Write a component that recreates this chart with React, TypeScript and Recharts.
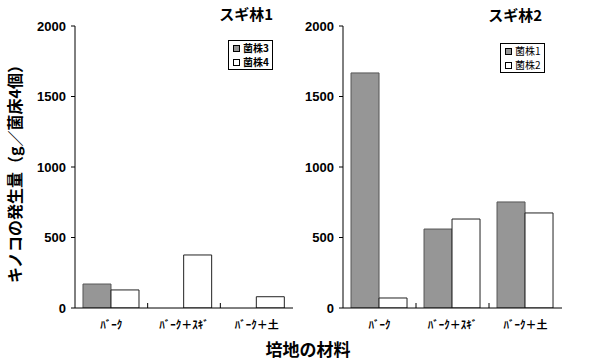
import React from "react";
import { BarChart, Bar, XAxis, YAxis, Legend } from "recharts";

const categories = ["ﾊﾞｰｸ", "ﾊﾞｰｸ＋ｽｷﾞ", "ﾊﾞｰｸ＋土"];
const forest1Strain3 = [170, 0, 0];
const forest1Strain4 = [128, 376, 80];
const forest2Strain1 = [1667, 560, 752];
const forest2Strain2 = [71, 631, 674];
const yTicks = [0, 500, 1000, 1500, 2000];

const FONT = "'Liberation Sans', 'Noto Sans CJK JP', sans-serif";
const JP = "'Noto Sans CJK JP', 'Liberation Sans', sans-serif";
const X_TICK_MARGIN = 13;

const data1 = categories.map((c, i) => ({ cat: c, a: forest1Strain3[i], b: forest1Strain4[i] }));
const data2 = categories.map((c, i) => ({ cat: c, a: forest2Strain1[i], b: forest2Strain2[i] }));

const CatTick = (props: any) => {
  const { x, y, payload, index } = props;
  const half = payload && payload.offset ? payload.offset : 0;
  const axisY = y - X_TICK_MARGIN;
  return (
    <g>
      {index > 0 && (
        <line x1={x - half} x2={x - half} y1={axisY} y2={axisY - 5} stroke="#000" strokeWidth={1} />
      )}
      <text x={x} y={y} dy="0.71em" textAnchor="middle" fontFamily={JP} fontWeight="bold" fontSize={11} fill="#000">
        {payload.value}
      </text>
    </g>
  );
};

const makeLegend = (bold: boolean) => (props: any) => {
  const payload = props.payload || [];
  return (
    <div
      style={{
        border: "1px solid #000",
        background: "#fff",
        padding: "0px 3px 0px 4px",
        fontFamily: JP,
        fontSize: 10,
        fontWeight: bold ? "bold" : "normal",
        lineHeight: "14px",
        color: "#000",
      }}
    >
      {payload.map((p: any) => (
        <div key={p.value} style={{ display: "flex", alignItems: "center", whiteSpace: "nowrap", height: 14 }}>
          <span
            style={{
              display: "inline-block",
              width: 5,
              height: 5,
              border: "1px solid #000",
              background: p.color,
              marginRight: 3,
            }}
          />
          {p.value}
        </div>
      ))}
    </div>
  );
};

type PanelProps = {
  data: any[];
  nameA: string;
  nameB: string;
  margin: { top: number; right: number; bottom: number; left: number };
  yWidth: number;
  legendPos: { left: number; top: number };
  boldLegend: boolean;
};

const Panel = ({ data, nameA, nameB, margin, yWidth, legendPos, boldLegend }: PanelProps) => (
  <BarChart width={300} height={361} data={data} margin={margin} barCategoryGap="11%" barGap={0}>
    <XAxis
      dataKey="cat"
      tickLine={false}
      tickSize={0}
      tickMargin={X_TICK_MARGIN}
      height={30}
      axisLine={{ stroke: "#000" }}
      tick={<CatTick />}
      interval={0}
    />
    <XAxis xAxisId="top" dataKey="cat" orientation="top" height={0} tick={false} tickLine={false} axisLine={{ stroke: "#000" }} />
    <YAxis
      domain={[0, 2000]}
      ticks={yTicks}
      width={yWidth}
      tickSize={4}
      tickMargin={5}
      tickLine={{ stroke: "#000" }}
      axisLine={{ stroke: "#000" }}
      tick={{ fill: "#000", fontFamily: FONT, fontWeight: "bold", fontSize: 13 }}
      allowDataOverflow
    />
    <YAxis yAxisId="r" orientation="right" width={0} domain={[0, 2000]} tick={false} tickLine={false} axisLine={{ stroke: "#000" }} />
    <Legend
      layout="vertical"
      align="center"
      verticalAlign="middle"
      content={makeLegend(boldLegend)}
      wrapperStyle={{ left: legendPos.left, top: legendPos.top, width: "auto", height: "auto" }}
    />
    <Bar dataKey="a" name={nameA} fill="#969696" stroke="#555" strokeWidth={1} isAnimationActive={false} />
    <Bar dataKey="b" name={nameB} fill="#ffffff" stroke="#222" strokeWidth={1} isAnimationActive={false} />
  </BarChart>
);

export default function App() {
  return (
    <div style={{ position: "absolute", left: 0, top: 0, width: 600, height: 361, background: "#fff", overflow: "hidden" }}>
      <div style={{ position: "absolute", left: 0, top: 0 }}>
        <Panel
          data={data1}
          nameA="菌株3"
          nameB="菌株4"
          margin={{ top: 26, right: 7, bottom: 23, left: 30 }}
          yWidth={45}
          legendPos={{ left: 228, top: 40 }}
          boldLegend={true}
        />
      </div>
      <div style={{ position: "absolute", left: 300, top: 0 }}>
        <Panel
          data={data2}
          nameA="菌株1"
          nameB="菌株2"
          margin={{ top: 26, right: 38, bottom: 23, left: 3 }}
          yWidth={40}
          legendPos={{ left: 200, top: 43 }}
          boldLegend={false}
        />
      </div>
      <svg width={600} height={361} style={{ position: "absolute", left: 0, top: 0, pointerEvents: "none" }}>
        <text x={273} y={20} textAnchor="end" fontFamily={JP} fontWeight="bold" fontSize={15} fill="#000">
          スギ林1
        </text>
        <text x={542} y={21} textAnchor="end" fontFamily={JP} fontWeight="bold" fontSize={15} fill="#000">
          スギ林2
        </text>
        <text x={308} y={356} textAnchor="middle" fontFamily={JP} fontWeight="bold" fontSize={17} fill="#000">
          培地の材料
        </text>
        <text
          x={0}
          y={0}
          transform="translate(21,170) rotate(-90)"
          textAnchor="middle"
          fontFamily={JP}
          fontWeight="bold"
          fontSize={16}
          fill="#000"
        >
          キノコの発生量（g／菌床4個）
        </text>
      </svg>
    </div>
  );
}
